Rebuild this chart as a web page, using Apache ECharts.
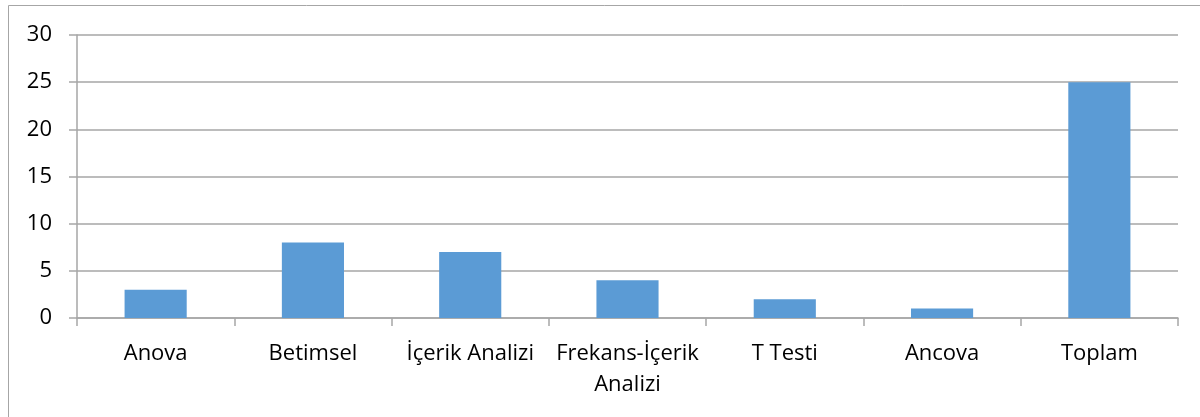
<!DOCTYPE html>
<html>
<head>
<meta charset="utf-8">
<script src="https://cdn.jsdelivr.net/npm/echarts@6/dist/echarts.min.js"></script>
<style>
html,body{margin:0;padding:0;background:#fff;}
#chart{width:1200px;height:417px;}
</style>
</head>
<body>
<div id="chart"></div>
<script>
const categories = ['Anova', 'Betimsel', 'İçerik Analizi', 'Frekans-İçerik\nAnalizi', 'T Testi', 'Ancova', 'Toplam'];
const values = [3, 8, 7, 4, 2, 1, 25];
const yTicks = [0, 5, 10, 15, 20, 25, 30];

const chart = echarts.init(document.getElementById('chart'), null, {renderer: 'canvas'});
const font = '"Open Sans", "Noto Sans", sans-serif';
chart.setOption({
  animation: false,
  backgroundColor: '#ffffff',
  graphic: [{
    type: 'rect',
    shape: {x: 8.5, y: 5.5, width: 1300, height: 500},
    style: {fill: 'none', stroke: '#A6A6A6', lineWidth: 1},
    silent: true
  }],
  grid: {left: 77, right: 22, top: 35, bottom: 99, containLabel: false},
  xAxis: {
    type: 'category',
    data: categories,
    axisLine: {show: true, lineStyle: {color: '#A6A6A6', width: 1.5}},
    axisTick: {show: true, length: 8, alignWithLabel: false, lineStyle: {color: '#A6A6A6', width: 1.5}},
    axisLabel: {
      color: '#000', fontFamily: font, fontSize: 22, margin: 20,
      lineHeight: 31, interval: 0
    },
    splitLine: {show: false}
  },
  yAxis: {
    type: 'value',
    min: yTicks[0],
    max: yTicks[yTicks.length - 1],
    interval: yTicks[1] - yTicks[0],
    axisLine: {show: true, lineStyle: {color: '#A6A6A6', width: 1.5}},
    axisTick: {show: true, length: 8, lineStyle: {color: '#A6A6A6', width: 1.5}},
    axisLabel: {color: '#000', fontFamily: font, fontSize: 22, margin: 25},
    splitLine: {show: true, lineStyle: {color: '#A6A6A6', width: 1.5}}
  },
  series: [{
    type: 'bar',
    data: values,
    barWidth: '39.5%',
    itemStyle: {color: '#5B9BD5'}
  }]
});
</script>
</body>
</html>
